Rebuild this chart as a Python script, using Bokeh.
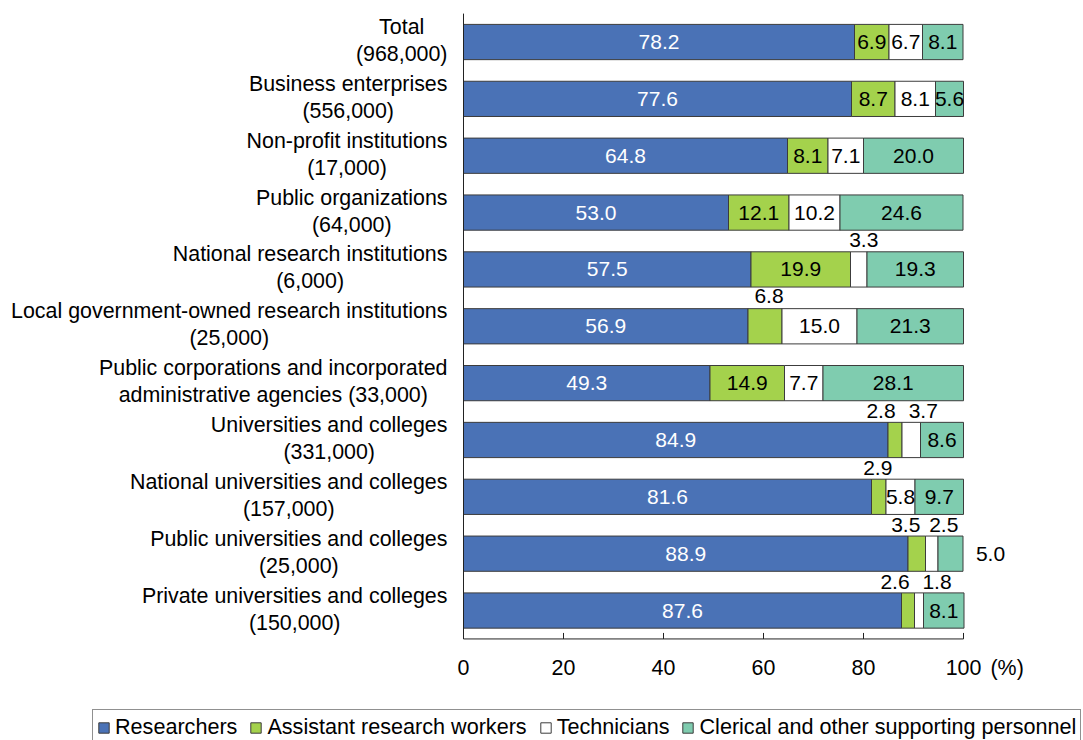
from bokeh.plotting import figure
from bokeh.models import ColumnDataSource, LabelSet, Label, Legend, LegendItem, Range1d
from bokeh.core.properties import value
from bokeh.embed import file_html
from bokeh.resources import INLINE

# ---------------- data ----------------
cat_line1 = ["Total", "Business enterprises", "Non-profit institutions", "Public organizations",
             "National research institutions", "Local government-owned research institutions",
             "Public corporations and incorporated", "Universities and colleges",
             "National universities and colleges", "Public universities and colleges",
             "Private universities and colleges"]
cat_line2 = ["(968,000)", "(556,000)", "(17,000)", "(64,000)", "(6,000)", "(25,000)",
             "administrative agencies (33,000)", "(331,000)", "(157,000)", "(25,000)", "(150,000)"]
researchers = [78.2, 77.6, 64.8, 53.0, 57.5, 56.9, 49.3, 84.9, 81.6, 88.9, 87.6]
assistants = [6.9, 8.7, 8.1, 12.1, 19.9, 6.8, 14.9, 2.8, 2.9, 3.5, 2.6]
technicians = [6.7, 8.1, 7.1, 10.2, 3.3, 15.0, 7.7, 3.7, 5.8, 2.5, 1.8]
clerical = [8.1, 5.6, 20.0, 24.6, 19.3, 21.3, 28.1, 8.6, 9.7, 5.0, 8.1]
series_names = ["Researchers", "Assistant research workers", "Technicians",
                "Clerical and other supporting personnel"]
x_ticks = [0, 20, 40, 60, 80, 100]
unit_label = "(%)"

# ---------------- style / layout ----------------
W, H = 1083, 740
PLOT_LEFT, PX_PER_UNIT = 463, 5.0       # page x of 0 %, pixels per percent
PLOT_TOP, BAND = 13.1, 56.85            # page y of top of category area, px per category
FONT = "Liberation Sans"
FS = "21px"
FS_CAT = 21.4
colors = ["#4A72B6", "#A4D24C", "#FFFFFF", "#7FCCAF"]
text_colors = ["white", "black", "black", "black"]
outline = "#3c3c3c"
axis_color = "#222222"
# label placement tweaks (row, series) -> (dx px, dy px) for labels outside small segments
label_shift = {(4, 2): (5, 29), (5, 1): (4, 30), (7, 1): (-14, 29), (7, 2): (12, 29),
               (8, 1): (-1, 29), (9, 1): (-11, 29), (9, 2): (12, 29), (9, 3): (40, 0),
               (10, 1): (-13, 29), (10, 2): (18, 29)}

# Arial / Liberation Sans advance widths (per 1000 em) for label width estimation
AW = {' ': 278, '(': 333, ')': 333, ',': 278, '-': 333, '.': 278}
for ch in "0123456789":
    AW[ch] = 556
AW.update(dict(zip("ABCDEFGHIJKLMNOPQRSTUVWXYZ",
                   [667, 667, 722, 722, 667, 611, 778, 722, 278, 500, 667, 556, 833, 722, 778,
                    667, 778, 722, 667, 611, 722, 667, 944, 667, 667, 611])))
AW.update(dict(zip("abcdefghijklmnopqrstuvwxyz",
                   [556, 556, 500, 556, 556, 278, 556, 556, 222, 222, 500, 222, 833, 556, 556,
                    556, 556, 333, 500, 278, 556, 500, 722, 500, 500, 500])))


def text_w(s, size=FS_CAT):
    return sum(AW.get(c, 556) for c in s) * size / 1000.0


n = len(cat_line1)
idx = list(range(n))                      # category index (0 = top)
y_base = n - 0.5                          # bottom edge of the category area

x_start = -PLOT_LEFT / PX_PER_UNIT
x_end = (W - PLOT_LEFT) / PX_PER_UNIT
y_top = -PLOT_TOP / BAND - 0.5
y_bottom = (H - PLOT_TOP) / BAND - 0.5

p = figure(width=W, height=H, x_range=Range1d(x_start, x_end),
           y_range=Range1d(y_bottom, y_top), x_axis_location=None, y_axis_location=None,
           min_border=0, output_backend="svg", toolbar_location=None)
p.outline_line_color = None
p.xgrid.visible = False
p.ygrid.visible = False

series = [researchers, assistants, technicians, clerical]
left = [0.0] * n
renderers = []
lab_x, lab_y, lab_t, lab_c, lab_dx, lab_dy = [], [], [], [], [], []
for si, vals in enumerate(series):
    right = [l + v for l, v in zip(left, vals)]
    src = ColumnDataSource(dict(y=idx, left=left, right=right))
    r = p.hbar(y="y", left="left", right="right", height=0.62, source=src,
               fill_color=colors[si], line_color=outline, line_width=1)
    renderers.append(r)
    for ri in range(n):
        dx, dy = label_shift.get((ri, si), (0, 0))
        lab_x.append((left[ri] + right[ri]) / 2.0)
        lab_y.append(idx[ri])
        lab_t.append(f"{vals[ri]:.1f}")
        lab_c.append(text_colors[si] if (dx, dy) == (0, 0) else "black")
        lab_dx.append(dx)
        lab_dy.append(dy)
    left = right

lsrc = ColumnDataSource(dict(x=lab_x, y=lab_y, t=lab_t, c=lab_c, dx=lab_dx, dy=lab_dy))
p.add_layout(LabelSet(x="x", y="y", text="t", source=lsrc, text_color="c",
                      x_offset="dx", y_offset="dy", text_align="center",
                      text_baseline="middle", text_font=value(FONT), text_font_size=value(FS)))

# category labels (two centred lines, block right-aligned next to the axis)
cx, cy, ct, cdy, cdx = [], [], [], [], []
for i, (a, b) in enumerate(zip(cat_line1, cat_line2)):
    w = max(text_w(a), text_w(b))
    for txt, dy in ((a, 15), (b, -12)):
        cx.append(0)
        cdx.append(-16 - w / 2.0)
        cy.append(idx[i])
        ct.append(txt)
        cdy.append(dy)
csrc = ColumnDataSource(dict(x=cx, y=cy, t=ct, dx=cdx, dy=cdy))
p.add_layout(LabelSet(x="x", y="y", text="t", x_offset="dx", y_offset="dy", source=csrc,
                      text_align="center", text_baseline="middle", text_font=value(FONT),
                      text_font_size=value(f"{FS_CAT}px"), text_color="black"))

# axis lines and ticks
p.segment(x0=[0], x1=[0], y0=[-0.5], y1=[y_base], line_color=axis_color, line_width=1)
p.segment(x0=[x_ticks[0]], x1=[x_ticks[-1]], y0=[y_base], y1=[y_base],
          line_color=axis_color, line_width=1)
tick_len = 6.0 / BAND
p.segment(x0=x_ticks, x1=x_ticks, y0=[y_base] * len(x_ticks), y1=[y_base - tick_len] * len(x_ticks),
          line_color=axis_color, line_width=1)
tsrc = ColumnDataSource(dict(x=x_ticks, y=[y_base] * len(x_ticks), t=[str(t) for t in x_ticks]))
p.add_layout(LabelSet(x="x", y="y", text="t", source=tsrc, y_offset=-29, text_align="center",
                      text_baseline="middle", text_font=value(FONT),
                      text_font_size=value(f"{FS_CAT}px"), text_color="black"))
p.add_layout(Label(x=x_ticks[-1], y=y_base, text=unit_label, x_offset=27, y_offset=-29,
                   text_baseline="middle", text_font=FONT, text_font_size=f"{FS_CAT}px",
                   text_color="black"))

legend = Legend(items=[LegendItem(label=nm, renderers=[r]) for nm, r in zip(series_names, renderers)],
                orientation="horizontal", location=(92, -5),
                label_text_font=FONT, label_text_font_size="21.6px", label_text_color="black",
                label_height=26, glyph_width=13, glyph_height=13, label_standoff=5, spacing=12,
                padding=4, margin=0, border_line_color=axis_color, border_line_width=1,
                background_fill_alpha=1)
p.add_layout(legend, "center")

open("out.html", "w").write(file_html(p, INLINE))
